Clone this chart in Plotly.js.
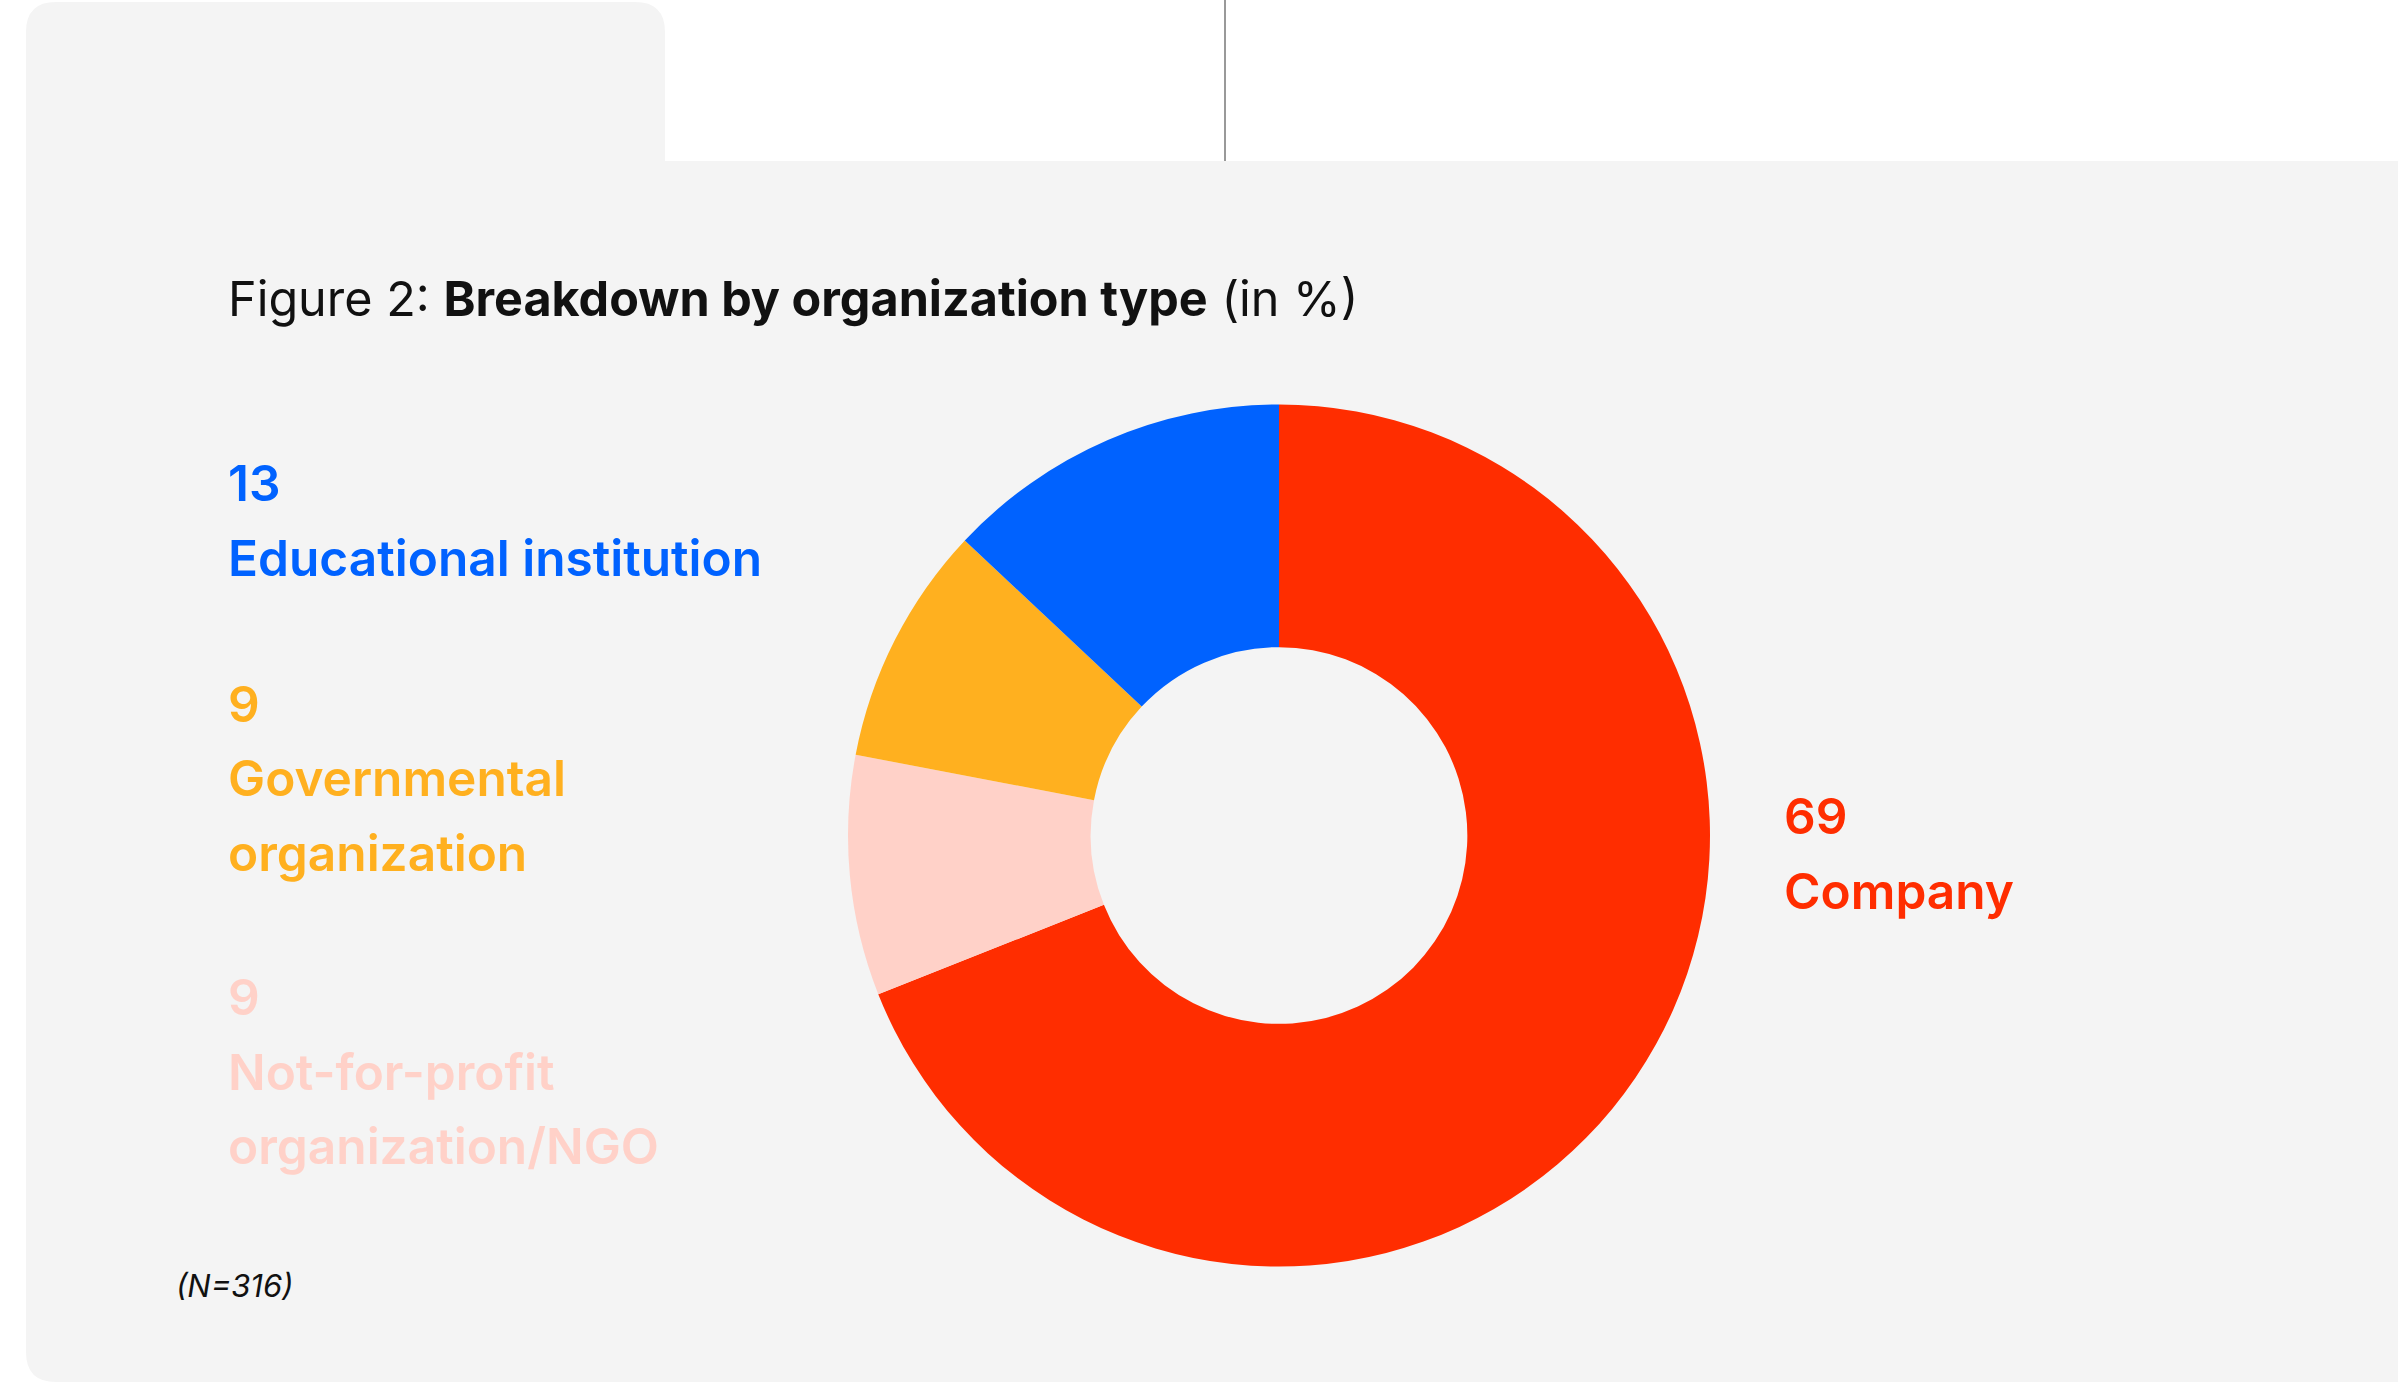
<!DOCTYPE html>
<html><head><meta charset="utf-8">
<script src="https://cdn.plot.ly/plotly-3.0.1.min.js"></script>
<style>html,body{margin:0;padding:0;background:#fff;} #chart{width:2398px;height:1382px;}</style>
</head><body><div id="chart"></div>
<script>
// ---- data ----
const categories = ["Educational institution", "Governmental organization", "Not-for-profit organization/NGO", "Company"];
const values = [13, 9, 9, 69];
const labelLines = [["Educational institution"], ["Governmental", "organization"], ["Not-for-profit", "organization/NGO"], ["Company"]];
const colors = ["#0062FF", "#FFB01F", "#FFD1C8", "#FF2D00"];
const titleText = "Figure 2: <b>Breakdown by organization type</b> (in %)";
const noteText = "<i>(N=316)</i>";

// ---- layout helpers (pixel -> paper) ----
const W = 2398, H = 1382;
const px = x => x / W;
const py = y => 1 - y / H;
const P = (x, y) => px(x).toFixed(5) + "," + py(y).toFixed(5);

const FONT = "Inter, Roboto, sans-serif";
// donut geometry
const cx = 1279, cy = 835.5, R = 431;
const LABEL_SIZE = 49.6;
const LINE_GAP = 74.5;
const labelAnchors = [{x: 229, y: 501}, {x: 229, y: 721.5}, {x: 229, y: 1015}, {x: 1785, y: 834}];

const annotations = [];
annotations.push({
  text: titleText, xref: "paper", yref: "paper", x: px(226), y: py(316 - 0.36 * 48.5),
  xanchor: "left", yanchor: "middle", showarrow: false,
  font: {family: FONT, size: 48.5, color: "#111"}
});
annotations.push({
  text: noteText, xref: "paper", yref: "paper", x: px(174), y: py(1297 - 0.36 * 31),
  xanchor: "left", yanchor: "middle", showarrow: false,
  font: {family: FONT, size: 31, color: "#111"}
});
categories.forEach((c, i) => {
  const a = labelAnchors[i];
  const lines = [String(values[i])].concat(labelLines[i]);
  lines.forEach((t, j) => {
    annotations.push({
      text: t, xref: "paper", yref: "paper",
      x: px(a.x - 3), y: py(a.y + j * LINE_GAP - 0.36 * LABEL_SIZE),
      xanchor: "left", yanchor: "middle", showarrow: false,
      font: {family: FONT, size: LABEL_SIZE, color: colors[i], weight: 600}
    });
  });
});

const bgPath = "M" + P(26, 32) + " Q" + P(26, 2) + " " + P(56, 2) +
  " L" + P(635, 2) + " Q" + P(665, 2) + " " + P(665, 32) +
  " L" + P(665, 161) + " L" + P(2398, 161) + " L" + P(2398, 1382) +
  " L" + P(56, 1382) + " Q" + P(26, 1382) + " " + P(26, 1352) + " Z";

const shapes = [
  {type: "path", xref: "paper", yref: "paper", path: bgPath, fillcolor: "#F4F4F4", line: {width: 0}, layer: "below"},
  {type: "line", xref: "paper", yref: "paper", x0: px(1225), x1: px(1225), y0: py(0), y1: py(161), line: {color: "#777", width: 1.5}, layer: "below"}
];

// drawn clockwise from 12 o'clock: Company, NGO, Governmental, Educational
const trace = {
  type: "pie",
  labels: categories.slice().reverse(),
  values: values.slice().reverse(),
  sort: false,
  direction: "clockwise", rotation: 0, hole: 0.437,
  marker: {colors: colors.slice().reverse(), line: {width: 0}},
  textinfo: "none", hoverinfo: "label+value", showlegend: false,
  domain: {x: [px(cx - R), px(cx + R)], y: [py(cy + R), py(cy - R)]}
};

const layout = {
  width: W, height: H, margin: {l: 0, r: 0, t: 0, b: 0},
  paper_bgcolor: "#FFFFFF", showlegend: false,
  shapes: shapes, annotations: annotations
};

Plotly.newPlot("chart", [trace], layout, {displayModeBar: false, staticPlot: true});
</script>
</body></html>
